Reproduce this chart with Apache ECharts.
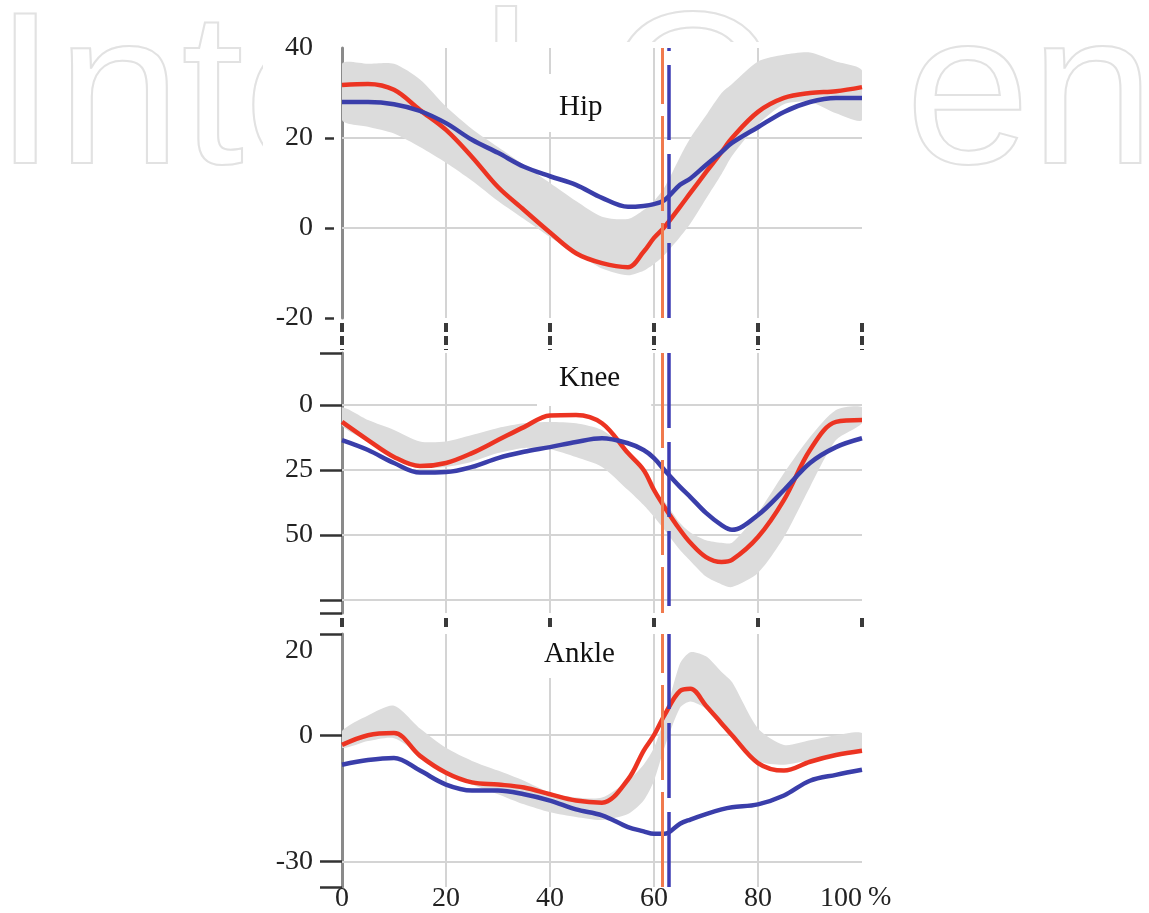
<!DOCTYPE html>
<html><head><meta charset="utf-8">
<script src="https://cdn.jsdelivr.net/npm/echarts@6/dist/echarts.min.js"></script>
<style>html,body{margin:0;padding:0;background:#fff}#c{width:1149px;height:913px}</style>
</head><body><div id="c"></div>
<script>
// gait cycle (%)
const pct = [0,5,10,15,20,25,30,35,40,45,50,55,58,60,62,65,67,70,73,75,80,85,90,95,100];

// Hip (deg)
const hipRed  = [31.8,32,30.7,26.2,21.8,15.8,9.1,4,-1,-5.6,-7.8,-8.7,-5.3,-2.2,0.2,4.7,7.8,12.4,16.9,20,25.8,28.9,30,30.4,31.3];
const hipBlue = [28,28,27.5,26,23.3,19.6,16.7,13.6,11.5,9.6,6.7,4.7,4.9,5.3,6.2,9.6,11,14,16.9,18.9,22.4,25.8,28,28.9,28.9];
const hipBandLow  = [24,22.5,21,18,14.5,10.5,6,2,-2,-5.5,-9,-10.5,-9.5,-8,-6,-2,1,6.5,12,16,23,27.5,28,25.5,24];
const hipBandHigh = [36.5,36.5,36.5,33,27,22,18,14,10,6,2.5,2,4,6,9,15.8,20,25,30,32,37,38.5,39,37,35];

// Knee (deg, flexion downward)
const kneeRed  = [6.5,13.5,20,23.5,22.3,18.5,13.5,8.5,4,3.8,7,18.5,25,32.7,39.2,48,53,58.5,60.4,59.6,50.8,36.5,17.3,6.5,5.8];
const kneeBlue = [13.5,17.3,22.3,26,25.8,23.8,20.4,18,16.2,14.2,12.8,14.7,17.3,20.4,25,31.5,35.4,41.5,46.2,48,42.3,32.7,22.3,16.2,12.8];
const kneeBandLow  = [1,5.8,9.6,14,14,11.5,8.8,7,6.5,7,9.6,17.3,25,32.7,37,45.4,49,52,53,53,41.5,26.2,12.3,1.9,0.8];
const kneeBandHigh = [8,14,20,24,23.8,21.8,18.5,16.5,17,20,23.8,32.7,38.5,43,48,55.8,60,66,69,70,64.6,50.8,31.5,13.5,7];

// Ankle (deg)
const ankleRed  = [-2.3,0,0.5,-4.9,-8.9,-11.2,-11.7,-12.4,-14,-15.5,-16,-10.5,-3.7,0,4.7,10.5,11,7,2.8,0,-6.6,-8.4,-6.3,-4.7,-3.7];
const ankleBlue = [-7,-5.9,-5.4,-8.4,-11.7,-13.1,-13.1,-14,-15.5,-17.6,-19,-21.8,-22.8,-23.4,-23.4,-21,-20,-18.7,-17.6,-17.1,-16.4,-14.3,-10.8,-9.4,-8.2];
const ankleBandLow  = [-3,-1.4,-0.7,-4.7,-9.4,-11.7,-14,-16.4,-18.3,-19.4,-20.1,-18.7,-15.5,-10.8,-3,6.5,8,6.3,2,0,-6.1,-7,-5.9,-4.7,-3.7];
const ankleBandHigh = [1,4.7,7,1.6,-3,-6.1,-8.4,-10.8,-13.6,-14.8,-14.8,-10.8,-7,-3,4,17,19.7,18.7,15,12.6,1.6,-2.3,-1.2,0,0.5];

// toe-off markers (% gait cycle)
const toeOffRed = 61.5;
const toeOffBlue = 62.9;

// axes: ranges, ticks, labels, gridlines
const panelTitles = ['Hip', 'Knee', 'Ankle'];
const yRanges = [[-20, 40], [-20, 80], [-36, 24]];
const yTicks  = [[20, 0, -20], [-20, 0, 25, 50, 75, 80], [24, 0, -30, -36]];
const yLabels = [[40, 20, 0, -20], [0, 25, 50], [20, 0, -30]];
const yGrid   = [[20, 0], [0, 25, 50, 75], [0, -30]];
const xGrid   = [20, 40, 60, 80];
const xTickLabels = [0, 20, 40, 60, 80, 100];

const FONT = 'Liberation Serif';
const RED = '#ec3422', BLUE = '#3a3eaa', BAND = '#dcdcdc', GRIDC = '#d4d4d4';

const panels = [
  {red: hipRed, blue: hipBlue, lo: hipBandLow, hi: hipBandHigh},
  {red: kneeRed, blue: kneeBlue, lo: kneeBandLow, hi: kneeBandHigh},
  {red: ankleRed, blue: ankleBlue, lo: ankleBandLow, hi: ankleBandHigh}
];
const gridPos = [
  {left: 342, width: 520, top: 48, height: 270},
  {left: 342, width: 520, top: 353, height: 260},
  {left: 342, width: 520, top: 634, height: 256}
];

const pair = arr => pct.map((p, i) => [p, arr[i]]);

function bandRenderer(params, api) {
  if (params.dataIndex !== 0) return null;
  const n = pct.length;
  const top = [], bot = [];
  for (let j = 0; j < n; j++) {
    const x = api.value(0, j);
    top.push(api.coord([x, api.value(2, j)]));
    bot.push(api.coord([x, api.value(1, j)]));
  }
  const pts = top.concat(bot.reverse());
  return {
    type: 'polygon',
    shape: {points: pts, smooth: 0.25},
    style: {fill: BAND, stroke: null}
  };
}

const gridLineStyle = {color: GRIDC, width: 2, type: 'solid'};
const xAxis = [], yAxis = [], series = [];
panels.forEach((pn, i) => {
  xAxis.push({
    gridIndex: i, type: 'value', min: 0, max: 100, interval: 20,
    offset: i < 2 ? 5 : 0,
    axisLine: {show: false, onZero: false},
    splitLine: {show: false},
    axisTick: i < 2
      ? {show: true, length: i === 0 ? 27 : 12, lineStyle: {color: '#3a3a3a', width: 4, type: [9, 4]}}
      : {show: false},
    axisLabel: i === 2
      ? {show: true, margin: -2, fontFamily: FONT, fontSize: 28, color: '#222',
         alignMaxLabel: 'right', customValues: xTickLabels}
      : {show: false}
  });
  yAxis.push({
    gridIndex: i, type: 'value', min: yRanges[i][0], max: yRanges[i][1],
    inverse: i === 1,
    axisLine: {show: true, onZero: false, lineStyle: {color: '#8a8a8a', width: 3}},
    splitLine: {show: false},
    axisTick: i === 0
      ? {show: true, customValues: yTicks[i], length: 17,
         lineStyle: {color: '#333', width: 2.5, type: [9, 100], dashOffset: 101}}
      : {show: true, customValues: yTicks[i], length: 22, lineStyle: {color: '#333', width: 2.5}},
    axisLabel: {show: true, customValues: yLabels[i], margin: 29,
      fontFamily: FONT, fontSize: 28, color: '#222'}
  });
  // grid lines (beneath the band)
  series.push({
    type: 'line', xAxisIndex: i, yAxisIndex: i, data: [], silent: true,
    markLine: {silent: true, z: 1, symbol: ['none', 'none'], label: {show: false},
      lineStyle: gridLineStyle, emphasis: {disabled: true},
      data: yGrid[i].map(v => ({yAxis: v})).concat(xGrid.map(v => ({xAxis: v})))}
  });
  // normative band
  series.push({
    type: 'custom', xAxisIndex: i, yAxisIndex: i, z: 2, silent: true, clip: true,
    data: pct.map((p, k) => [p, pn.lo[k], pn.hi[k]]),
    encode: {x: 0, y: [1, 2]},
    renderItem: bandRenderer
  });
  // patient curves
  series.push({
    type: 'line', xAxisIndex: i, yAxisIndex: i, z: 3, data: pair(pn.red),
    symbol: 'none', smooth: 0.35, lineStyle: {color: RED, width: 4.5}
  });
  series.push({
    type: 'line', xAxisIndex: i, yAxisIndex: i, z: 4, data: pair(pn.blue),
    symbol: 'none', smooth: 0.35, lineStyle: {color: BLUE, width: 4.5}
  });
  // toe-off vertical markers
  series.push({
    type: 'line', xAxisIndex: i, yAxisIndex: i, data: [], silent: true,
    markLine: {silent: true, z: 6, symbol: ['none', 'none'], label: {show: false},
      emphasis: {disabled: true},
      data: [
        {xAxis: toeOffRed, lineStyle: {color: '#f07a4e', width: 3, type: [95, 12]}},
        {xAxis: toeOffBlue, lineStyle: {color: '#3c3cb4', width: 3.5, type: [75, 14]}}
      ]}
  });
});

// title boxes: [left, top, padding] — the white label boxes mask grid lines
const titleBoxes = [
  [540, 74, [19, 50, 10, 19]],
  [537, 353, [11, 31, 13, 22]],
  [537, 634, [6, 37, 9, 7]]
];
const option = {
  animation: false,
  backgroundColor: '#ffffff',
  grid: gridPos,
  xAxis, yAxis, series,
  title: panelTitles.map((t, i) => ({
    text: t, left: titleBoxes[i][0], top: titleBoxes[i][1], padding: titleBoxes[i][2],
    backgroundColor: '#ffffff',
    textStyle: {fontFamily: FONT, fontSize: 29, fontWeight: 'normal', color: '#111'}
  })),
  graphic: [
    // publisher watermark, sitting behind the chart picture
    {type: 'text', x: -6, y: -6, scaleX: 1.03, z: -10, silent: true,
     style: {text: 'IntechOpen', font: '218px "Liberation Sans"', verticalAlign: 'top', align: 'left',
       fill: 'rgba(255,255,255,0)', stroke: '#e2e2e2', lineWidth: 2}},
    {type: 'rect', z: -5, silent: true,
     shape: {x: 263, y: 42, width: 634, height: 871}, style: {fill: '#ffffff'}},
    {type: 'text', left: 868, top: 884, silent: true,
     style: {text: '%', font: '28px "Liberation Serif"', fill: '#222'}}
  ]
};
const chart = echarts.init(document.getElementById('c'));
chart.setOption(option);
</script></body></html>
